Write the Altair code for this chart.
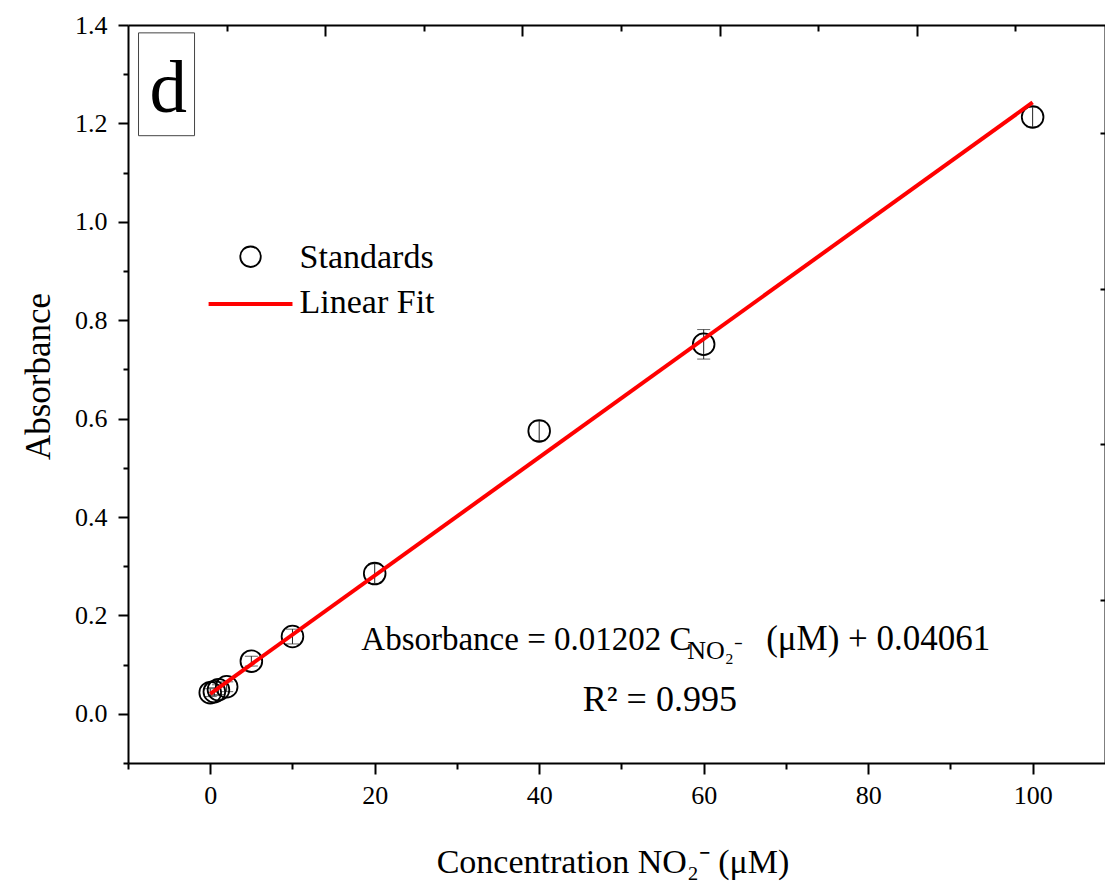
import altair as alt
import pandas as pd

# ---- data ----
conc = [0, 0.5, 1, 2, 5, 10, 20, 40, 60, 100]
absorb = [0.043, 0.045, 0.049, 0.055, 0.107, 0.157, 0.285, 0.575, 0.751, 1.213]
err = [0.008, 0.008, 0.01, 0.01, 0.01, 0.015, 0.02, 0.02, 0.03, 0.02]

fit_x = [0, 100]
fit_y = [0.0406, 1.2426]

x_major = [0, 20, 40, 60, 80, 100]
x_minor = [-10, 10, 30, 50, 70, 90]
y_major = [0.0, 0.2, 0.4, 0.6, 0.8, 1.0, 1.2, 1.4]
y_minor = [-0.1, 0.1, 0.3, 0.5, 0.7, 0.9, 1.1, 1.3]
top_major = [2, 4, 6, 8]
top_minor = [1, 3, 5, 7, 9]
right_ticks = [0, 1, 2, 3]

# left-aligned annotation texts (x, y in data units, font size)
txt = ["d", "Standards", "Linear Fit", "Absorbance = 0.01202 C", "NO₂⁻",
       "(μM) + 0.04061", "R² = 0.995"]
txt_x = [-7.38, 10.86, 10.86, 18.37, 58.0, 67.6, 45.3]
txt_y = [1.2236, 0.9066, 0.815, 0.130, 0.1112, 0.130, 0.005]
txt_s = [75, 34, 34, 33, 26, 35, 36]

XD = [-10, 108.8]
YD = [-0.1, 1.4]
TOPD = [0, 9.909]
RIGHTD = [-1.046, 3.694]
W, H = 977, 738
FONT = "Liberation Serif"


def xsc(d=XD):
    return alt.Scale(domain=d, nice=False, zero=False)


def ysc(d=YD):
    return alt.Scale(domain=d, nice=False, zero=False)


df = pd.DataFrame({
    "c": conc, "a": absorb,
    "lo": [a - e for a, e in zip(absorb, err)],
    "hi": [a + e for a, e in zip(absorb, err)],
})
fit = pd.DataFrame({"c": fit_x, "a": fit_y})
tdf = pd.DataFrame({"x": txt_x, "y": txt_y, "t": txt, "s": txt_s})

ax_common = dict(domainColor="black", tickColor="black", labelColor="black",
                 titleColor="black", labelFont=FONT, titleFont=FONT, grid=False)

# main axes with the circles
points = alt.Chart(df).mark_point(shape="circle", size=470, filled=False,
                                  color="black", strokeWidth=1.8, opacity=1).encode(
    x=alt.X("c:Q", scale=xsc(), axis=alt.Axis(
        orient="bottom", values=x_major, format="d", title="Concentration NO₂⁻ (μM)",
        tickSize=11, tickWidth=2, domainWidth=2, labelFontSize=26, labelPadding=8,
        titleFontSize=34, titleFontWeight="normal", titleX=W / 2 - 4, titleY=99,
        titleBaseline="middle", titleAlign="center", **ax_common)),
    y=alt.Y("a:Q", scale=ysc(), axis=alt.Axis(
        orient="left", values=y_major, format=".1f", title="Absorbance",
        tickSize=10, tickWidth=2, domainWidth=2, labelFontSize=26, labelPadding=11,
        titleFontSize=35, titleFontWeight="normal", titleX=-90, titleY=351,
        titleBaseline="middle", titleAlign="center", **ax_common)),
)

# minor ticks on bottom / left
minor = alt.Chart(df).mark_point(opacity=0).encode(
    x=alt.X("c:Q", scale=xsc(), axis=alt.Axis(
        orient="bottom", values=x_minor, labels=False, domain=False, title=None,
        tickSize=6, tickWidth=2, **ax_common)),
    y=alt.Y("a:Q", scale=ysc(), axis=alt.Axis(
        orient="left", values=y_minor, labels=False, domain=False, title=None,
        tickSize=5, tickWidth=2, **ax_common)),
)

# top frame axis (inward ticks)
top_major_l = alt.Chart(pd.DataFrame({"v": top_major})).mark_point(opacity=0).encode(
    x=alt.X("v:Q", scale=xsc(TOPD), axis=alt.Axis(
        orient="bottom", offset=-H, values=top_major, labels=False, title=None,
        tickSize=11, tickWidth=2, domainWidth=2, **ax_common)),
)
top_minor_l = alt.Chart(pd.DataFrame({"v": top_minor})).mark_point(opacity=0).encode(
    x=alt.X("v:Q", scale=xsc(TOPD), axis=alt.Axis(
        orient="bottom", offset=-H, values=top_minor, labels=False, domain=False,
        title=None, tickSize=6, tickWidth=2, **ax_common)),
)
# right frame axis (inward ticks)
right_l = alt.Chart(pd.DataFrame({"v": right_ticks})).mark_point(opacity=0).encode(
    y=alt.Y("v:Q", scale=ysc(RIGHTD), axis=alt.Axis(
        orient="left", offset=-W, values=right_ticks, labels=False, title=None,
        tickSize=5, tickWidth=2, domainWidth=2, **ax_common)),
)

# error bars
bars = alt.Chart(df).mark_rule(color="#222222", strokeWidth=1).encode(
    x=alt.X("c:Q", scale=xsc(), axis=None),
    y=alt.Y("lo:Q", scale=ysc(), axis=None),
    y2="hi:Q",
)
caps_lo = alt.Chart(df).mark_tick(orient="horizontal", size=13, thickness=1,
                                  color="#222222").encode(
    x=alt.X("c:Q", scale=xsc(), axis=None),
    y=alt.Y("lo:Q", scale=ysc(), axis=None),
)
caps_hi = alt.Chart(df).mark_tick(orient="horizontal", size=13, thickness=1,
                                  color="#222222").encode(
    x=alt.X("c:Q", scale=xsc(), axis=None),
    y=alt.Y("hi:Q", scale=ysc(), axis=None),
)

# fit line
fitline = alt.Chart(fit).mark_line(color="#ff0000", strokeWidth=4).encode(
    x=alt.X("c:Q", scale=xsc(), axis=None),
    y=alt.Y("a:Q", scale=ysc(), axis=None),
)

# legend symbols
leg_pt = alt.Chart(pd.DataFrame({"x": [4.9], "y": [0.929]})).mark_point(
    shape="circle", size=420, filled=False, color="black", strokeWidth=1.8, opacity=1).encode(
    x=alt.X("x:Q", scale=xsc(), axis=None),
    y=alt.Y("y:Q", scale=ysc(), axis=None),
)
leg_line = alt.Chart(pd.DataFrame({"x": [-0.2], "x2": [10.0], "y": [0.833]})).mark_rule(
    color="#ff0000", strokeWidth=4).encode(
    x=alt.X("x:Q", scale=xsc(), axis=None),
    x2="x2:Q",
    y=alt.Y("y:Q", scale=ysc(), axis=None),
)

# "d" panel box
box = alt.Chart(pd.DataFrame({"x": [-8.72], "x2": [-1.91], "y": [1.384], "y2": [1.175]})).mark_rect(
    fillOpacity=0, stroke="#444444", strokeWidth=1).encode(
    x=alt.X("x:Q", scale=xsc(), axis=None), x2="x2:Q",
    y=alt.Y("y:Q", scale=ysc(), axis=None), y2="y2:Q",
)

texts = alt.Chart(tdf).mark_text(align="left", baseline="alphabetic", font=FONT,
                                 color="black").encode(
    x=alt.X("x:Q", scale=xsc(), axis=None),
    y=alt.Y("y:Q", scale=ysc(), axis=None),
    text="t:N",
    size=alt.Size("s:Q", scale=None),
)

chart = alt.layer(
    minor, top_major_l, top_minor_l, right_l, bars, caps_lo, caps_hi, points,
    fitline, leg_pt, leg_line, box, texts
).resolve_scale(x="independent", y="independent").properties(
    width=W, height=H,
    autosize=alt.AutoSizeParams(type="none"),
    padding={"left": 128, "top": 25, "right": 0, "bottom": 119},
).configure_view(stroke=None).configure(font=FONT, background="white").configure_axis(
    labelFont=FONT, titleFont=FONT
).configure_axisX(labelFont=FONT).configure_axisY(labelFont=FONT).configure_text(font=FONT)

chart.save("out.html", embed_options={"renderer": "svg", "actions": False})
